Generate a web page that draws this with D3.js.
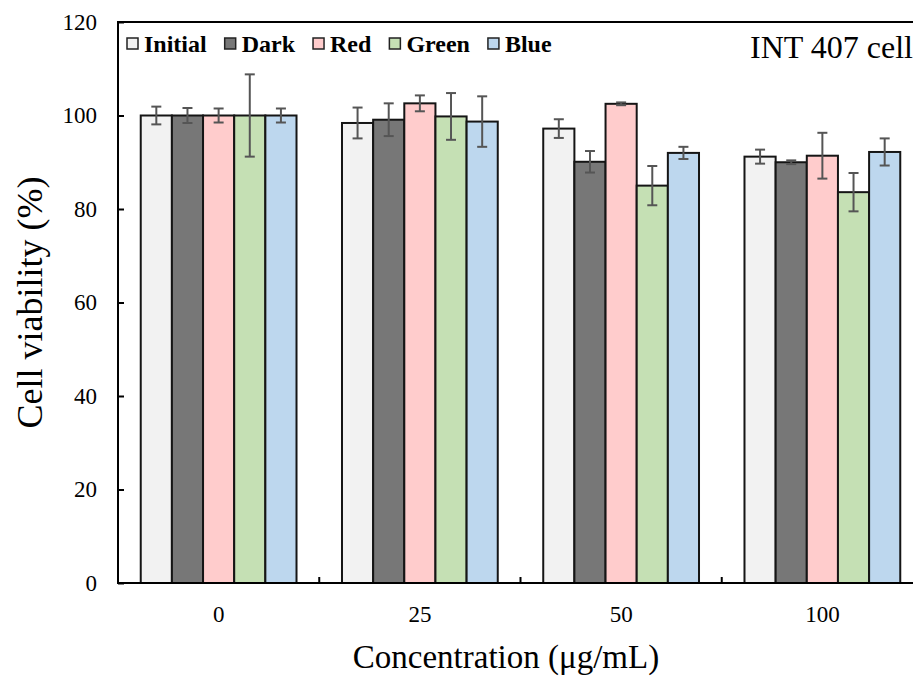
<!DOCTYPE html>
<html>
<head>
<meta charset="utf-8">
<script src="https://cdn.jsdelivr.net/npm/d3@7"></script>
<style>
  body { margin: 0; background: #fff; }
  svg, svg text { font-family: "Liberation Serif", "Times New Roman", serif; }
</style>
</head>
<body>
<script>
var concentrations = ["0", "25", "50", "100"];
var series = ["Initial", "Dark", "Red", "Green", "Blue"];
var colors = ["#f2f2f2", "#777777", "#ffcccc", "#c5e0b4", "#bdd7ee"];
// viability (%) per series, one value per concentration
var initialVals = [100, 98.4, 97.2, 91.2];
var darkVals    = [100, 99.1, 90.1, 90.0];
var redVals     = [100, 102.6, 102.5, 91.4];
var greenVals   = [100, 99.8, 85.0, 83.6];
var blueVals    = [100, 98.7, 92.0, 92.2];
// error (+/-)
var initialErr = [1.9, 3.3, 2.0, 1.5];
var darkErr    = [1.6, 3.5, 2.3, 0.4];
var redErr     = [1.5, 1.7, 0.3, 4.9];
var greenErr   = [8.8, 5.0, 4.2, 4.1];
var blueErr    = [1.5, 5.4, 1.3, 2.9];
var yTicks = [0, 20, 40, 60, 80, 100, 120];

var allVals = [initialVals, darkVals, redVals, greenVals, blueVals];
var allErr = [initialErr, darkErr, redErr, greenErr, blueErr];

var width = 913, height = 677;
var margin = { left: 118, right: -10, top: 22, bottom: 94 };
var plotRight = width - margin.right;
var plotBottom = height - margin.bottom;
var serif = "'Liberation Serif', 'Times New Roman', serif";

var svg = d3.select("body").append("svg")
  .attr("width", width)
  .attr("height", height);

var x0 = d3.scaleBand()
  .domain(concentrations)
  .range([margin.left, plotRight])
  .paddingInner(0.226)
  .paddingOuter(0.113);

var x1 = d3.scaleBand()
  .domain(series)
  .range([0, x0.bandwidth()]);

var y = d3.scaleLinear()
  .domain([0, 120])
  .range([plotBottom, margin.top]);

var color = d3.scaleOrdinal().domain(series).range(colors);

// flat list of bars
var bars = [];
concentrations.forEach(function (c, i) {
  series.forEach(function (s, j) {
    bars.push({ conc: c, name: s, value: allVals[j][i], err: allErr[j][i] });
  });
});

svg.append("g").selectAll("rect")
  .data(bars)
  .enter()
  .append("rect")
  .attr("x", function (d) { return x0(d.conc) + x1(d.name); })
  .attr("y", function (d) { return y(d.value); })
  .attr("width", x1.bandwidth())
  .attr("height", function (d) { return y(0) - y(d.value); })
  .attr("fill", function (d) { return color(d.name); })
  .attr("stroke", "#151515")
  .attr("stroke-width", 2);

// error bars
var eb = svg.append("g")
  .attr("stroke", "#555")
  .attr("stroke-width", 2)
  .selectAll("g")
  .data(bars)
  .enter()
  .append("g")
  .attr("transform", function (d) {
    return "translate(" + (x0(d.conc) + x1(d.name) + x1.bandwidth() / 2) + ",0)";
  });

eb.append("line")
  .attr("y1", function (d) { return y(d.value + d.err); })
  .attr("y2", function (d) { return y(d.value - d.err); });
eb.append("line")
  .attr("x1", -5).attr("x2", 5)
  .attr("y1", function (d) { return y(d.value + d.err); })
  .attr("y2", function (d) { return y(d.value + d.err); });
eb.append("line")
  .attr("x1", -5).attr("x2", 5)
  .attr("y1", function (d) { return y(d.value - d.err); })
  .attr("y2", function (d) { return y(d.value - d.err); });

// y axis, ticks pointing inward
var yAxis = svg.append("g")
  .attr("transform", "translate(" + margin.left + ",0)")
  .call(d3.axisLeft(y).tickValues(yTicks).tickSizeInner(-6).tickSizeOuter(0).tickPadding(21));
yAxis.attr("font-family", null);
yAxis.select(".domain").remove();
yAxis.selectAll("line").attr("stroke", "#000").attr("stroke-width", 2);
yAxis.selectAll("text")
  .attr("fill", "#000")
  .style("font-size", "23px")
  .style("font-family", serif);

// x axis labels
var xAxis = svg.append("g")
  .attr("transform", "translate(0," + plotBottom + ")")
  .call(d3.axisBottom(x0).tickSize(0).tickPadding(23));
xAxis.attr("font-family", null);
xAxis.select(".domain").remove();
xAxis.selectAll("text")
  .attr("fill", "#000")
  .style("font-size", "23px")
  .style("font-family", serif);

// tick marks between groups
svg.append("g").selectAll("line")
  .data(concentrations.slice(1))
  .enter()
  .append("line")
  .attr("x1", function (d) { return x0(d) - x0.step() * x0.paddingInner() / 2; })
  .attr("x2", function (d) { return x0(d) - x0.step() * x0.paddingInner() / 2; })
  .attr("y1", plotBottom)
  .attr("y2", plotBottom - 6)
  .attr("stroke", "#000")
  .attr("stroke-width", 2);

// frame
svg.append("rect")
  .attr("x", margin.left)
  .attr("y", margin.top)
  .attr("width", plotRight - margin.left)
  .attr("height", plotBottom - margin.top)
  .attr("fill", "none")
  .attr("stroke", "#000")
  .attr("stroke-width", 2);

// axis titles
svg.append("text")
  .attr("x", 506)
  .attr("y", 668)
  .attr("text-anchor", "middle")
  .style("font-size", "33px")
  .text("Concentration (μg/mL)");

svg.append("text")
  .attr("transform", "translate(42," + ((margin.top + plotBottom) / 2) + ") rotate(-90)")
  .attr("text-anchor", "middle")
  .style("font-size", "36px")
  .text("Cell viability (%)");

// label top right
svg.append("text")
  .attr("x", 750)
  .attr("y", 58)
  .style("font-size", "32px")
  .text("INT 407 cell");

// legend
var lx = 127;
series.forEach(function (s) {
  svg.append("rect")
    .attr("x", lx)
    .attr("y", 38)
    .attr("width", 11)
    .attr("height", 11)
    .attr("fill", color(s))
    .attr("stroke", "#222")
    .attr("stroke-width", 1.5);
  var t = svg.append("text")
    .attr("x", lx + 17)
    .attr("y", 52)
    .style("font-size", "24px")
    .style("font-weight", "bold")
    .text(s);
  lx = lx + 17 + t.node().getComputedTextLength() + 18;
});
</script>
</body>
</html>
